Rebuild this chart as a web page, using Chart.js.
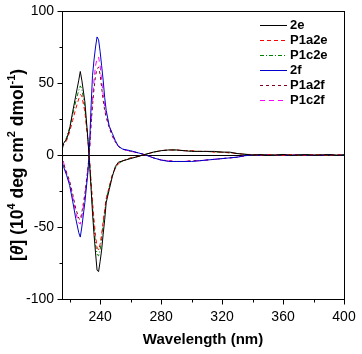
<!DOCTYPE html>
<html lang="en">
<head>
  <meta charset="UTF-8" />
  <title>CD spectra</title>
  <script src="https://cdn.jsdelivr.net/npm/chart.js"></script>
  <style>
    body { margin: 0; background: #fff; }
    canvas { display: block; }
  </style>
</head>
<body>
  <canvas id="chart" width="362" height="354"></canvas>

  <script>
    // wavelength (nm) shared by all series
    const wavelengths = [215, 216, 218, 220, 222, 224, 226, 227, 228, 230,
      232, 233, 234, 235, 236, 237, 238, 239, 240, 241,
      242, 243, 244, 246, 248, 250, 252, 255, 260, 265,
      270, 275, 280, 285, 290, 295, 300, 305, 310, 315,
      320, 325, 330, 335, 340, 345, 350, 355, 360, 365,
      370, 375, 380, 385, 390, 395, 400];

    const s2e = [3, 8, 11, 18, 30, 41, 52, 58, 52, 37,
      11, -5, -22, -40, -55, -68, -80, -81, -74, -66,
      -55, -45, -33, -24, -15, -8, -5, -4, -2.5, -1,
      0.5, 2, 3, 3.5, 3.5, 3, 2.5, 2.5, 2.5, 2.5,
      2, 2, 1, 0.5, 0, 0.3, -0.3, 0, 0.4, -0.2,
      0, 0.3, -0.2, 0, 0.3, -0.2, 0];
    const sP1a2e = [9, 7, 10, 16, 24, 32, 39, 42, 41, 30,
      10, -2, -17, -32, -45, -56, -64, -66, -62, -55,
      -46, -38, -30, -22, -14, -9, -6, -4, -2, -1,
      0.5, 2, 3, 3.5, 3.5, 3, 3, 2.5, 2.5, 2,
      2, 1.5, 1, 0.5, 0.3, -0.2, 0.3, 0, -0.3, 0.2,
      0, -0.2, 0.3, 0, -0.2, 0.2, 0];
    const sP1c2e = [5, 8, 12, 19, 28, 37, 45, 48, 46, 33,
      11, -2, -19, -36, -50, -62, -69, -70, -66, -58,
      -48, -39, -31, -22, -14, -9, -6, -4, -2, -1,
      0.5, 2, 3, 3.5, 3.5, 3, 3, 2.5, 2.5, 2,
      2, 1.5, 1, 0.5, 0, 0.3, 0, -0.2, 0.2, 0,
      -0.3, 0.2, 0, 0.2, -0.2, 0, 0];
    const s2f = [-5, -8, -14, -21, -32, -44, -54, -57, -50, -33,
      -12, 5, 32, 55, 66, 75, 82, 80, 72, 62,
      52, 40, 31, 20, 15, 10, 6, 4, 3, 1.5,
      0, -2, -3.5, -4.5, -4.5, -4.5, -4.5, -4, -3.5, -3,
      -2.5, -2, -1.5, -0.5, 0, -0.3, 0.2, -0.3, 0, -0.4,
      0.2, -0.3, 0, -0.4, 0.2, -0.3, 0];
    const sP1a2f = [-3, -6, -12, -18, -27, -37, -44, -45, -40, -27,
      -9, 2, 20, 34, 46, 55, 60, 61, 56, 47,
      38, 31, 26, 19, 13, 9, 6, 4, 2.5, 1.5,
      0, -2, -3.5, -4, -4.5, -4.5, -4, -4, -3.5, -3,
      -2.5, -2, -1.5, -0.5, 0, 0.2, -0.3, 0, -0.3, 0.2,
      -0.3, 0, -0.3, 0.2, 0, -0.3, 0];
    const sP1c2f = [2, -5, -13, -19, -29, -40, -47, -48, -43, -29,
      -10, 2, 22, 38, 52, 62, 67, 68, 62, 52,
      42, 34, 28, 20, 14, 9, 6, 4, 2.5, 1.5,
      0, -2, -3.5, -4, -4.5, -4.5, -4, -4, -3.5, -3,
      -2.5, -2, -1.5, -0.5, 0, -0.2, 0.2, -0.3, 0, 0.2,
      -0.2, 0, -0.3, 0, 0.2, -0.2, 0];

    const xMajorTicks = [240, 280, 320, 360, 400];
    const xMinorTicks = [220, 260, 300, 340, 380];
    const yMajorTicks = [-100, -50, 0, 50, 100];
    const yMinorTicks = [-75, -25, 25, 75];

    const FONT = "'Liberation Sans', Arial, sans-serif";

    const pts = (ys) => wavelengths.map((x, i) => ({ x: x, y: ys[i] }));
    const line = (label, ys, color, dash) => ({
      label: label,
      data: pts(ys),
      borderColor: color,
      borderWidth: 1,
      borderDash: dash,
      pointRadius: 0,
      tension: 0,
      fill: false
    });

    // frame, tick marks, tick labels, zero line, titles and legend
    const decor = {
      id: "decor",
      beforeDatasetsDraw(chart) {
        const { ctx, chartArea: a, scales: { y } } = chart;
        ctx.save();
        ctx.strokeStyle = "#000";
        ctx.lineWidth = 1;
        const y0 = Math.round(y.getPixelForValue(0)) + 0.5;
        ctx.beginPath();
        ctx.moveTo(a.left, y0);
        ctx.lineTo(a.right, y0);
        ctx.stroke();
        ctx.restore();
      },
      afterDatasetsDraw(chart) {
        const { ctx, chartArea: a, scales: { x, y } } = chart;
        ctx.save();
        ctx.strokeStyle = "#000";
        ctx.lineWidth = 1;
        const L = Math.round(a.left) + 0.5, R = Math.round(a.right) + 0.5;
        const T = Math.round(a.top) + 0.5, B = Math.round(a.bottom) + 0.5;
        ctx.strokeRect(L, T, R - L, B - T);

        ctx.beginPath();
        xMajorTicks.forEach(v => {
          const px = Math.round(x.getPixelForValue(v)) + 0.5;
          ctx.moveTo(px, B); ctx.lineTo(px, B + 5);
        });
        xMinorTicks.forEach(v => {
          const px = Math.round(x.getPixelForValue(v)) + 0.5;
          ctx.moveTo(px, B); ctx.lineTo(px, B + 3);
        });
        yMajorTicks.forEach(v => {
          const py = Math.round(y.getPixelForValue(v)) + 0.5;
          ctx.moveTo(L, py); ctx.lineTo(L - 5, py);
        });
        yMinorTicks.forEach(v => {
          const py = Math.round(y.getPixelForValue(v)) + 0.5;
          ctx.moveTo(L, py); ctx.lineTo(L - 3, py);
        });
        ctx.stroke();

        // tick labels
        ctx.fillStyle = "#000";
        ctx.font = "14px " + FONT;
        ctx.textBaseline = "middle";
        ctx.textAlign = "center";
        xMajorTicks.forEach(v => ctx.fillText(String(v), x.getPixelForValue(v), 317));
        ctx.textAlign = "right";
        yMajorTicks.forEach(v => ctx.fillText(String(v), 54, y.getPixelForValue(v)));

        // legend
        ctx.font = "bold 13px " + FONT;
        ctx.textAlign = "left";
        chart.data.datasets.forEach((ds, i) => {
          const ly = 25 + i * 15 + 0.5;
          ctx.strokeStyle = ds.borderColor;
          ctx.setLineDash(ds.borderDash || []);
          ctx.beginPath();
          ctx.moveTo(260, ly);
          ctx.lineTo(287, ly);
          ctx.stroke();
          ctx.setLineDash([]);
          ctx.fillStyle = "#000";
          ctx.fillText(ds.label, 290, ly);
        });

        // x title
        ctx.fillStyle = "#000";
        ctx.font = "bold 15px " + FONT;
        ctx.textAlign = "center";
        ctx.fillText("Wavelength (nm)", 203, 340);

        // y title, rotated, with italic theta and superscripts
        ctx.translate(18, 165);
        ctx.rotate(-Math.PI / 2);
        const big = 17.5, small = 11;
        const parts = [
          { t: "[", f: "bold " + big + "px " + FONT, dy: 0 },
          { t: "\u03b8", f: "italic bold " + big + "px " + FONT, dy: 0 },
          { t: "] (10", f: "bold " + big + "px " + FONT, dy: 0 },
          { t: "4", f: "bold " + small + "px " + FONT, dy: -6 },
          { t: " deg cm", f: "bold " + big + "px " + FONT, dy: 0 },
          { t: "2", f: "bold " + small + "px " + FONT, dy: -6 },
          { t: " dmol", f: "bold " + big + "px " + FONT, dy: 0 },
          { t: "-1", f: "bold " + small + "px " + FONT, dy: -6 },
          { t: ")", f: "bold " + big + "px " + FONT, dy: 0 }
        ];
        let total = 0;
        parts.forEach(p => { ctx.font = p.f; total += ctx.measureText(p.t).width; });
        let cx = -total / 2;
        ctx.textAlign = "left";
        parts.forEach(p => {
          ctx.font = p.f;
          ctx.fillText(p.t, cx, p.dy);
          cx += ctx.measureText(p.t).width;
        });
        ctx.restore();
      }
    };

    new Chart(document.getElementById("chart"), {
      type: "line",
      data: {
        datasets: [
          line("2e", s2e, "#000000", []),
          line("P1a2e", sP1a2e, "#ff0000", [4, 3]),
          line("P1c2e", sP1c2e, "#008000", [4, 2, 1, 2]),
          line("2f", s2f, "#0000cc", []),
          line("P1a2f", sP1a2f, "#800020", [3, 3]),
          line("P1c2f", sP1c2f, "#ff00ff", [5, 4])
        ]
      },
      options: {
        responsive: false,
        animation: false,
        layout: { padding: { left: 0, right: 18, top: 11, bottom: 0 } },
        plugins: { legend: { display: false }, tooltip: { enabled: false } },
        scales: {
          x: {
            type: "linear",
            min: 215,
            max: 400,
            border: { display: false },
            grid: { display: false, drawTicks: false },
            afterFit: (s) => { s.height = 55; },
            ticks: { display: false }
          },
          y: {
            min: -100,
            max: 100,
            border: { display: false },
            grid: { display: false, drawTicks: false },
            afterFit: (s) => { s.width = 62; },
            ticks: { display: false }
          }
        }
      },
      plugins: [decor]
    });
  </script>
</body>
</html>
